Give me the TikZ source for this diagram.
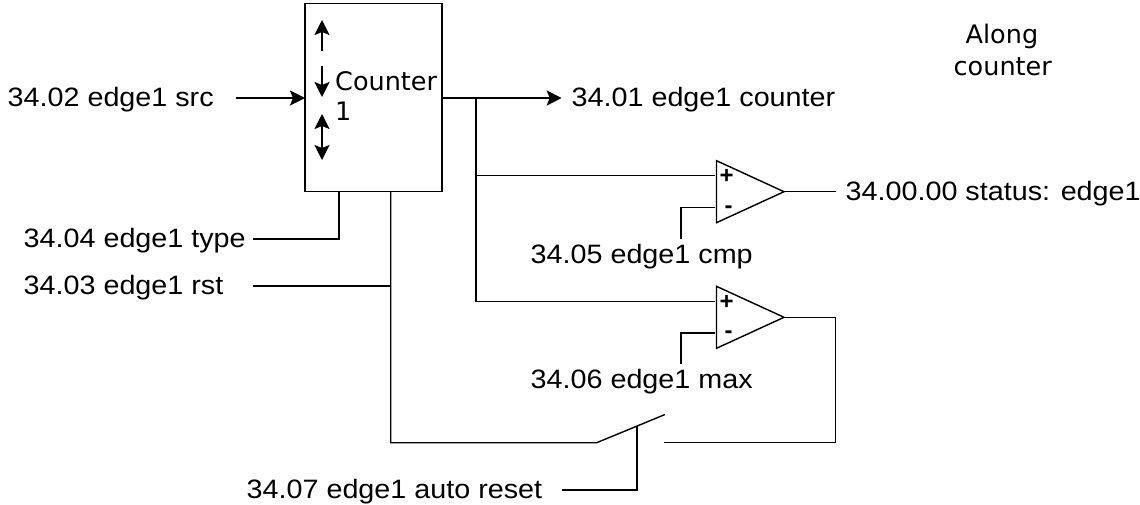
\documentclass[tikz,border=0pt]{standalone}
\usepackage{fontspec}
\newfontfamily\lblfont[FakeStretch=1.08]{Liberation Sans}
\newfontfamily\sgnfont{Liberation Sans}
\newfontfamily\dejafont{DejaVu Sans}
\usetikzlibrary{arrows.meta, positioning, calc, shapes.geometric}
\tikzset{
	lbl/.style={inner sep=0pt, anchor=base west, font=\lblfont\fontsize{26.6}{30}\selectfont},
	dej/.style={inner sep=0pt, anchor=base west, font=\dejafont\fontsize{25.5}{30}\selectfont},
	cmp/.style={draw, isosceles triangle, isosceles triangle stretches, minimum width=62pt, minimum height=67.5pt, inner sep=0pt, outer sep=0pt, anchor=apex},
	sgn/.style={inner sep=0pt, font=\sgnfont\bfseries\fontsize{24}{25}\selectfont},
	head/.tip={Stealth[length=15pt,width=15pt,inset=3pt]},
}
\begin{document}
\begin{tikzpicture}[x=1pt,y=-1pt,line width=1.4pt]
	\useasboundingbox (0,0) rectangle (1140,504);
	\node[draw, minimum width=137pt, minimum height=188.2pt, inner sep=0pt, outer sep=0pt] (cnt) at (373.5,97.6) {};
	\node[dej] (cntname) at (334.5,90) {Counter};
	\node[dej] (cntnum) at (334.5,120) {1};
	\node[dej] (alonga) at (965,43) {Along};
	\node[dej] (alongb) at (953,75) {counter};
	% arrows in the box
	\coordinate (upa) at (322,51);
	\coordinate (upb) at (322,20);
	\coordinate (dna) at (322,66);
	\coordinate (dnb) at (322,97);
	\coordinate (bia) at (322,114);
	\coordinate (bib) at (322,160);
	\draw[-head] (upa) -- (upb);
	\draw[-head] (dna) -- (dnb);
	\draw[head-head] (bia) -- (bib);
	% labels
	\node[lbl] (src) at (7,106) {34.02 edge1 src};
	\node[lbl] (counter) at (571,106) {34.01 edge1 counter};
	\node[lbl] (status) at (845,200.3) {34.00.00 status: edge1};
	\node[lbl] (type) at (23,247) {34.04 edge1 type};
	\node[lbl] (rst) at (23,294.3) {34.03 edge1 rst};
	\node[lbl] (ecmp) at (530,263.3) {34.05 edge1 cmp};
	\node[lbl] (emax) at (530,388.3) {34.06 edge1 max};
	\node[lbl] (auto) at (246,498.3) {34.07 edge1 auto reset};
	% comparators
	\node[cmp] (cmpa) at (784,191.7) {};
	\node[cmp] (cmpb) at (784,317.3) {};
	\node[sgn] (pa) at (726.7,176) {+};
	\node[sgn] (ma) at (728.7,210) {-};
	\node[sgn] (pb) at (726.7,302) {+};
	\node[sgn] (mb) at (728.7,334.3) {-};
	\coordinate (ina) at (715.3,175.7);
	\coordinate (inb) at (715.3,301.5);
	\coordinate (nega) at (715.3,207.7);
	\coordinate (negb) at (715.3,333);
	\coordinate (negaend) at (681,239);
	\coordinate (negbend) at (681,364);
	% wires
	\coordinate (srcend) at (236,98);
	\coordinate (outend) at (561.7,98);
	\coordinate (stend) at (835.7,191.7);
	\coordinate (fork) at (476,98);
	\draw[-head] (srcend) -- (cnt.west |- srcend);
	\draw[-head] (cnt.east |- outend) -- (outend);
	\draw (fork) |- (ina);
	\draw (fork) |- (inb);
	\draw (nega) -| (negaend);
	\draw (negb) -| (negbend);
	\draw (cmpa.apex) -- (stend);
	% switch
	\coordinate (typeb) at (339,191.7);
	\coordinate (rstb) at (390.7,191.7);
	\coordinate (typeend) at (253,239);
	\coordinate (rstend) at (253,286);
	\coordinate (swa) at (596.7,442.7);
	\coordinate (swb) at (665,414.5);
	\coordinate (swc) at (664,442.7);
	\coordinate (swm) at (637,425.5);
	\coordinate (autoend) at (562,490);
	\coordinate (fbk) at (835.7,317.3);
	\draw (typeend) -| (typeb);
	\draw (rstend) -- (rstb |- rstend);
	\draw (rstb) |- (swa) -- (swb);
	\draw (cmpb.apex) -- (fbk) |- (swc);
	\draw (autoend) -| (swm);
\end{tikzpicture}
\end{document}
